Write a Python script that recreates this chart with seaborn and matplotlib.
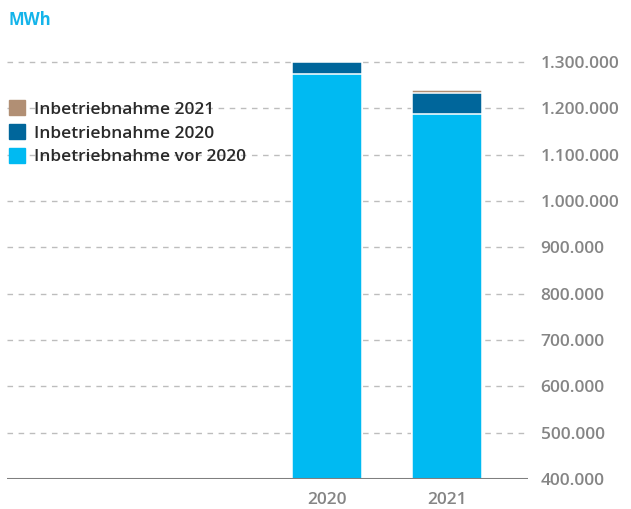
import numpy as np
import pandas as pd
import matplotlib
matplotlib.use("Agg")
import matplotlib.pyplot as plt
import seaborn as sns
from matplotlib.patches import Patch
from matplotlib.ticker import FuncFormatter

# Daten (MWh)
jahre = ["2020", "2021"]
vor_2020 = [1273000, 1188000]
inbetrieb_2020 = [27000, 45000]
inbetrieb_2021 = [0, 6000]

farbe_vor = "#00baf2"
farbe_2020 = "#00669b"
farbe_2021 = "#b18f74"

sns.set_style("white")
plt.rcParams["font.family"] = ["Open Sans", "DejaVu Sans"]

df = pd.DataFrame({"jahr": jahre, "vor": vor_2020, "i2020": inbetrieb_2020, "i2021": inbetrieb_2021})
df["stufe2"] = df["vor"] + df["i2020"]
df["gesamt"] = df["stufe2"] + df["i2021"]

fig = plt.figure(figsize=(6.31, 5.09), dpi=100)
ax = fig.add_axes([7 / 631, 1 - 479 / 509, 521 / 631, (479 - 55) / 509])

# gestapelt: zuerst Summe, dann darüber die unteren Stufen
for spalte, farbe in [("gesamt", farbe_2021), ("stufe2", farbe_2020), ("vor", farbe_vor)]:
    sns.barplot(data=df, x="jahr", y=spalte, color=farbe, saturation=1, width=0.59,
                edgecolor="white", linewidth=1.1, ax=ax, zorder=3)

ax.set_ylim(400000, 1315000)
ax.set_xlim(-2.667, 1.675)
ax.set_yticks(np.arange(400000, 1300001, 100000))
ax.yaxis.set_major_formatter(FuncFormatter(lambda v, p: f"{int(v):,}".replace(",", ".")))
ax.yaxis.tick_right()
ax.tick_params(axis="y", length=0, pad=9, labelsize=12.5, labelcolor="#858585")
ax.tick_params(axis="x", length=0, pad=9, labelsize=12.5, labelcolor="#858585")
for lbl in ax.get_xticklabels() + ax.get_yticklabels():
    lbl.set_fontweight("semibold")
ax.set_xlabel("")
ax.set_ylabel("")

for v in np.arange(500000, 1300001, 100000):
    ax.axhline(v, color="#bdbdbd", lw=1, ls=(0, (4, 4)), zorder=1)
ax.axhline(400000, color="#7f7f7f", lw=2.2, zorder=4)

for s in ax.spines.values():
    s.set_visible(False)

handles = [Patch(color=farbe_2021, label="Inbetriebnahme 2021"),
           Patch(color=farbe_2020, label="Inbetriebnahme 2020"),
           Patch(color=farbe_vor, label="Inbetriebnahme vor 2020")]
leg = ax.legend(handles=handles, loc="upper left", bbox_to_anchor=(0.004, 0.893), frameon=False,
                fontsize=12.5, handlelength=0.92, handleheight=0.92, handletextpad=0.5,
                labelspacing=0.38, labelcolor="#2a2a2a", borderaxespad=0, borderpad=0)
for t in leg.get_texts():
    t.set_fontweight("semibold")

fig.text(8 / 631, 1 - 20 / 509, "MWh", color="#14b4ea", fontsize=12, fontweight="bold", va="center")

fig.savefig("out.png", dpi=100)
